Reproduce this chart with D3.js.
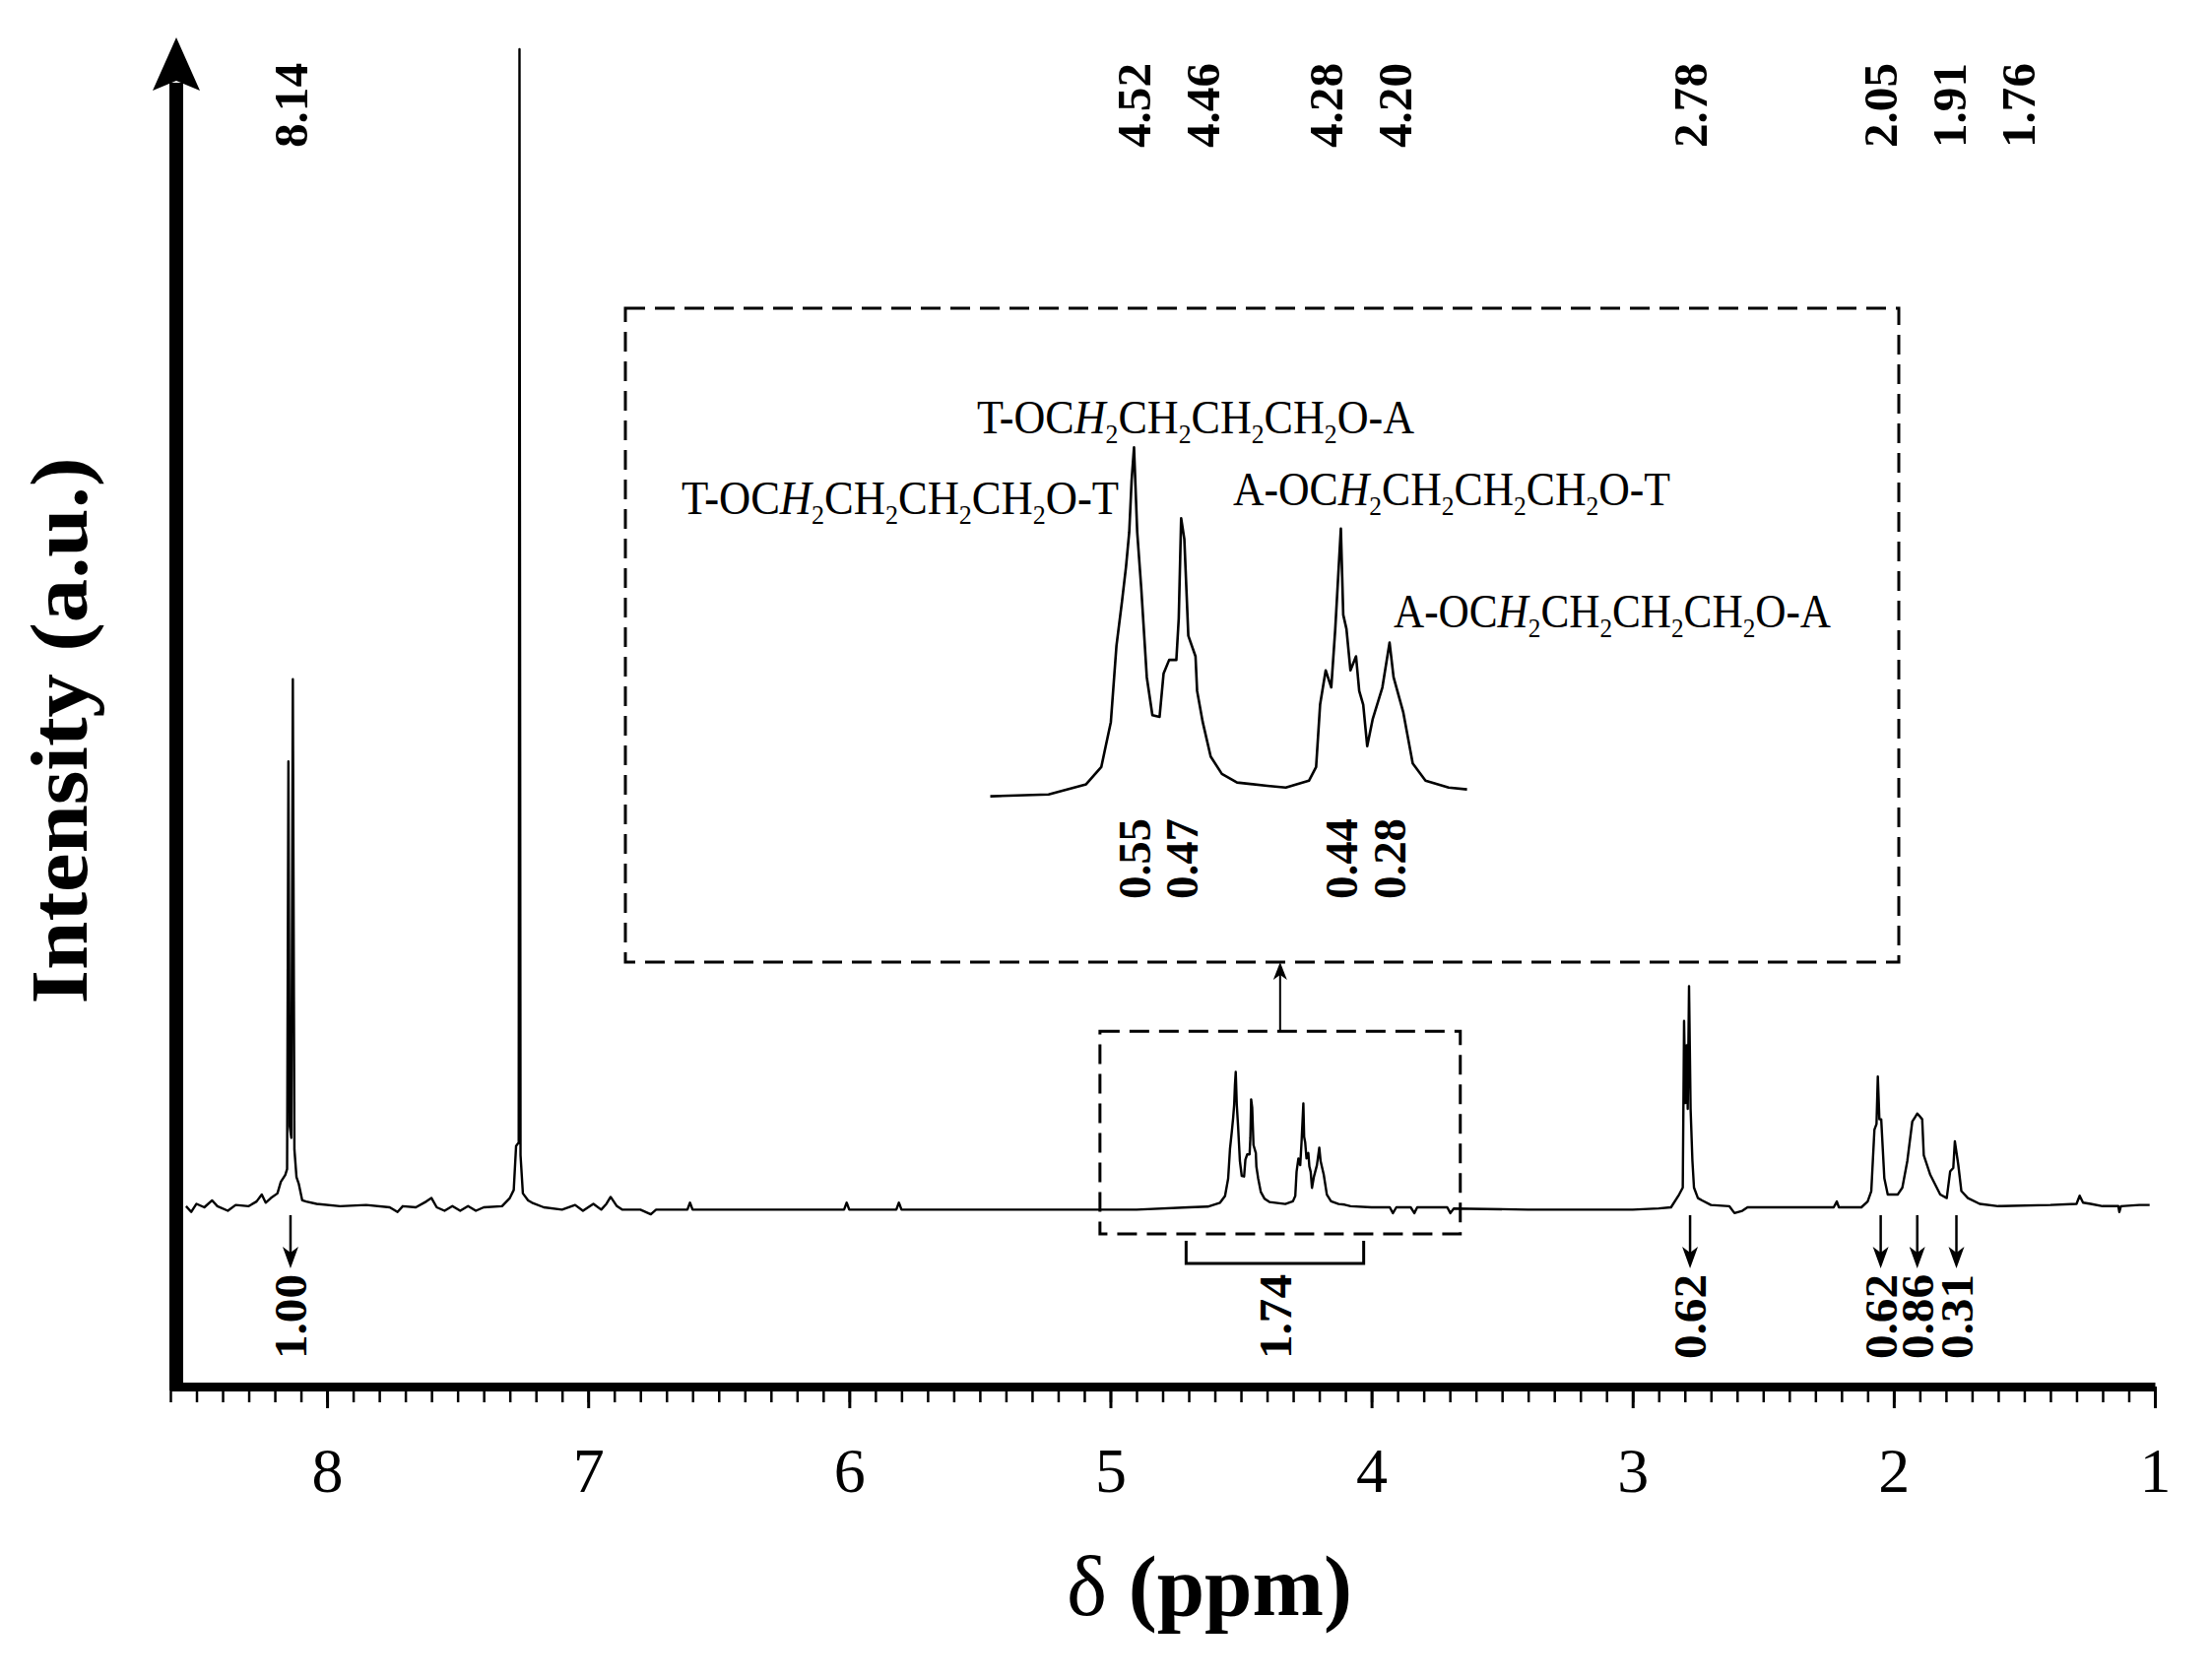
<!DOCTYPE html>
<html>
<head>
<meta charset="utf-8">
<script src="https://cdn.jsdelivr.net/npm/d3@7"></script>
<style>
  body { margin: 0; background: #fff; }
  svg { display: block; }
  text { font-family: "Liberation Serif", "Times New Roman", serif; fill: #000; }
</style>
</head>
<body>
<div id="chart-container"></div>
<script>
// Traces : [ppm, intensité], raie CHCl3 = 100
const aromaticTrace = [
  [8.54, 0.1], [8.52, -0.4], [8.50, 0.3], [8.47, 0.0], [8.44, 0.6], [8.42, 0.1], [8.38, -0.3],
  [8.35, 0.2], [8.30, 0.1], [8.27, 0.5], [8.25, 1.1], [8.235, 0.4], [8.215, 0.8], [8.19, 1.2],
  [8.177, 2.2], [8.16, 2.8], [8.153, 3.3], [8.148, 38.5], [8.143, 7.0], [8.137, 6.0], [8.131, 45.6],
  [8.125, 5.0], [8.117, 2.6], [8.108, 2.0], [8.095, 0.6], [8.08, 0.5], [8.04, 0.3], [7.95, 0.1],
  [7.85, 0.2], [7.76, 0.0], [7.73, -0.4], [7.71, 0.1], [7.66, 0.0], [7.62, 0.5], [7.60, 0.8],
  [7.58, 0.0], [7.55, -0.3], [7.52, 0.1], [7.49, -0.3], [7.46, 0.1], [7.43, -0.3], [7.40, 0.0],
  [7.33, 0.1], [7.30, 0.8], [7.285, 1.5], [7.276, 5.3], [7.266, 5.6], [7.263, 100], [7.259, 4.5],
  [7.25, 1.2], [7.23, 0.6], [7.215, 0.4], [7.17, 0.0], [7.10, -0.2], [7.05, 0.2], [7.02, -0.3],
  [6.98, 0.3], [6.95, -0.2], [6.93, 0.3], [6.914, 0.9], [6.89, 0.1], [6.87, -0.2], [6.80, -0.2],
  [6.76, -0.6], [6.74, -0.2], [6.62, -0.2], [6.61, 0.4], [6.60, -0.2], [6.20, -0.2], [6.02, -0.2],
  [6.01, 0.4], [6.00, -0.2], [5.82, -0.2], [5.81, 0.4], [5.80, -0.2], [5.20, -0.2], [4.90, -0.2]
];

// zone OCH2, tracée dans le spectre et dans l'encart
const oxyMethyleneTrace = [
  [4.700, 0.0], [4.627, 0.06], [4.580, 0.40], [4.561, 0.98], [4.549, 2.49], [4.542, 5.04],
  [4.535, 6.54], [4.530, 7.70], [4.526, 8.85], [4.523, 10.59], [4.520, 11.69], [4.516, 8.85],
  [4.511, 7.0], [4.504, 3.99], [4.497, 2.72], [4.488, 2.66], [4.483, 4.11], [4.476, 4.57],
  [4.467, 4.57], [4.464, 5.96], [4.461, 9.32], [4.457, 8.62], [4.452, 5.38], [4.443, 4.69],
  [4.441, 3.53], [4.434, 2.49], [4.424, 1.33], [4.410, 0.75], [4.391, 0.46], [4.353, 0.35],
  [4.330, 0.29], [4.301, 0.52], [4.292, 0.98], [4.287, 3.07], [4.280, 4.22], [4.273, 3.65],
  [4.268, 5.61], [4.261, 8.97], [4.258, 6.08], [4.254, 5.61], [4.249, 4.22], [4.242, 4.69],
  [4.238, 3.53], [4.233, 3.07], [4.228, 1.68], [4.221, 2.60], [4.209, 3.65], [4.200, 5.15],
  [4.195, 3.99], [4.183, 2.83], [4.171, 1.10], [4.155, 0.52], [4.126, 0.29], [4.103, 0.23]
];

const aliphaticTrace = [
  [4.08, 0.1], [4.00, 0.0], [3.93, 0.0], [3.918, -0.5], [3.905, 0.0], [3.85, 0.0], [3.836, -0.5],
  [3.825, 0.0], [3.71, 0.0], [3.698, -0.5], [3.685, -0.1], [3.40, -0.2], [3.00, -0.2], [2.90, -0.1],
  [2.853, 0.0], [2.822, 1.1], [2.808, 1.7], [2.803, 16.1], [2.798, 9.0], [2.793, 14.0], [2.789, 8.5],
  [2.784, 19.1], [2.778, 8.5], [2.771, 4.0], [2.765, 1.7], [2.75, 0.8], [2.734, 0.6], [2.70, 0.2],
  [2.63, 0.1], [2.61, -0.5], [2.58, -0.3], [2.56, 0.0], [2.40, 0.0], [2.23, 0.0], [2.218, 0.5],
  [2.21, 0.0], [2.124, 0.0], [2.10, 0.5], [2.086, 1.4], [2.074, 6.7], [2.066, 7.2], [2.061, 11.3],
  [2.055, 7.6], [2.048, 7.6], [2.036, 2.5], [2.023, 1.1], [1.985, 1.1], [1.967, 1.7], [1.948, 4.0],
  [1.929, 7.4], [1.918, 7.8], [1.91, 8.1], [1.902, 7.9], [1.891, 7.6], [1.885, 4.5], [1.86, 2.8],
  [1.822, 1.1], [1.797, 0.8], [1.784, 3.1], [1.772, 3.4], [1.766, 5.7], [1.753, 3.7], [1.741, 1.4],
  [1.716, 0.8], [1.671, 0.3], [1.60, 0.1], [1.40, 0.2], [1.30, 0.3], [1.288, 1.0], [1.275, 0.4],
  [1.246, 0.3], [1.20, 0.1], [1.14, 0.1], [1.136, -0.4], [1.13, 0.1], [1.06, 0.2], [1.02, 0.2]
];

const xTicks = [8, 7, 6, 5, 4, 3, 2, 1];
const mainShifts = ["8.14", "2.78", "2.05", "1.91", "1.76"];
const insetShifts = ["4.52", "4.46", "4.28", "4.20"];
const integralShifts = [8.14, 2.78, 2.05, 1.91, 1.76];
const integralValues = ["1.00", "0.62", "0.62", "0.86", "0.31"];
const bracketRange = [4.71, 4.03];
const bracketValue = "1.74";
const insetIntegralShifts = [4.52, 4.46, 4.26, 4.20];
const insetIntegralValues = ["0.55", "0.47", "0.44", "0.28"];
const assignmentEnds = [["T", "T"], ["T", "A"], ["A", "T"], ["A", "A"]];
const zoomWindow = [5.04, 3.66];      // ppm
const zoomWindowLevels = [-2.3, 15.2]; // intensité

// Mise en page
const width = 2245, height = 1706;
const axisY = 1408;

const svg = d3.select("#chart-container").append("svg")
  .attr("width", width).attr("height", height);

const x = d3.scaleLinear().domain([8.6, 1]).range([173, 2188]);
const y = d3.scaleLinear().domain([0, 100]).range([1226, 50]);

// encart
const ix = d3.scaleLinear().domain([4.70, 4.103]).range([1005.5, 1489.6]);
const iy = d3.scaleLinear().domain([0, 11.69]).range([808.6, 454.4]);

// Axe X : petites graduations puis grandes avec les chiffres
svg.append("g")
  .attr("transform", `translate(0,${axisY})`)
  .call(d3.axisBottom(x).tickValues(d3.range(10, 87).map(d => d / 10))
    .tickSize(16).tickSizeOuter(0).tickFormat(""))
  .call(g => g.select(".domain").attr("stroke-width", 9))
  .call(g => g.selectAll(".tick line").attr("stroke-width", 2.5));

svg.append("g")
  .attr("transform", `translate(0,${axisY})`)
  .call(d3.axisBottom(x).tickValues(xTicks).tickSize(22).tickSizeOuter(0).tickPadding(40).tickFormat(d3.format("d")))
  .call(g => g.select(".domain").remove())
  .call(g => g.selectAll(".tick line").attr("stroke-width", 3))
  .call(g => g.selectAll(".tick text").attr("font-size", 64).attr("fill", "#000"));

// Axe Y : trait épais avec flèche
svg.append("line")
  .attr("x1", 179).attr("x2", 179)
  .attr("y1", axisY + 4).attr("y2", 84)
  .attr("stroke", "#000").attr("stroke-width", 14);
svg.append("path")
  .attr("d", "M179,38 L203,92 L179,82 L155,92 Z")
  .attr("fill", "#000");

svg.append("text")
  .attr("transform", "translate(88,742) rotate(-90)")
  .attr("text-anchor", "middle")
  .attr("font-size", 82).attr("font-weight", "bold")
  .attr("textLength", 555).attr("lengthAdjust", "spacingAndGlyphs")
  .text("Intensity (a.u.)");

const xTitle = svg.append("text")
  .attr("x", 1083).attr("y", 1640)
  .attr("font-size", 86)
  .attr("textLength", 290).attr("lengthAdjust", "spacingAndGlyphs");
xTitle.append("tspan").text("δ ");
xTitle.append("tspan").attr("font-weight", "bold").text("(ppm)");

// Spectre
const line = d3.line().x(d => x(d[0])).y(d => y(d[1]));
svg.append("path")
  .datum(aromaticTrace.concat(oxyMethyleneTrace, aliphaticTrace))
  .attr("d", line)
  .attr("fill", "none").attr("stroke", "#000")
  .attr("stroke-width", 2.4).attr("stroke-linejoin", "round");

// Étiquettes verticales
function vlabel(cx, cy, txt, size, len) {
  svg.append("text")
    .attr("transform", `translate(${cx},${cy}) rotate(-90)`)
    .attr("text-anchor", "middle").attr("dy", "0.35em")
    .attr("font-size", size).attr("font-weight", "bold")
    .attr("textLength", len).attr("lengthAdjust", "spacingAndGlyphs")
    .text(txt);
}

// écarte les étiquettes trop proches
function spread(xs, gap) {
  const out = xs.slice();
  for (let i = 1; i < out.length; i++) out[i] = Math.max(out[i], out[i - 1] + gap);
  return out;
}

spread(mainShifts.map(s => x(+s)), 70).forEach((px, i) => vlabel(px, 107, mainShifts[i], 48, 86));
spread(insetShifts.map(s => ix(+s)), 70).forEach((px, i) => vlabel(px, 107, insetShifts[i], 48, 86));

// Intégrales avec flèches
function downArrow(px) {
  svg.append("line").attr("x1", px).attr("x2", px).attr("y1", 1234).attr("y2", 1272)
    .attr("stroke", "#000").attr("stroke-width", 2.5);
  svg.append("path")
    .attr("d", `M${px},1288 L${px - 8},1266 L${px},1272 L${px + 8},1266 Z`)
    .attr("fill", "#000");
}
integralShifts.forEach((s, i) => {
  downArrow(x(s));
  vlabel(x(s), 1337, integralValues[i], 46, 86);
});

const b0 = x(bracketRange[0]), b1 = x(bracketRange[1]);
svg.append("path")
  .attr("d", `M${b0},1260 V1283 H${b1} V1260`)
  .attr("fill", "none").attr("stroke", "#000").attr("stroke-width", 3);
vlabel((b0 + b1) / 2, 1337, bracketValue, 46, 86);

// Zone agrandie
const z0 = x(zoomWindow[0]), z1 = x(zoomWindow[1]);
svg.append("rect")
  .attr("x", z0).attr("y", y(zoomWindowLevels[1]))
  .attr("width", z1 - z0).attr("height", y(zoomWindowLevels[0]) - y(zoomWindowLevels[1]))
  .attr("fill", "none").attr("stroke", "#000").attr("stroke-width", 3)
  .attr("stroke-dasharray", "20,10");

const inset = { x: 635, y: 313, w: 1293, h: 664 };
svg.append("rect")
  .attr("x", inset.x).attr("y", inset.y).attr("width", inset.w).attr("height", inset.h)
  .attr("fill", "none").attr("stroke", "#000").attr("stroke-width", 3)
  .attr("stroke-dasharray", "20,10");

const zc = (z0 + z1) / 2;
svg.append("line").attr("x1", zc).attr("x2", zc)
  .attr("y1", y(zoomWindowLevels[1])).attr("y2", inset.y + inset.h + 8)
  .attr("stroke", "#000").attr("stroke-width", 2);
svg.append("path")
  .attr("d", `M${zc},${inset.y + inset.h} L${zc - 7},${inset.y + inset.h + 18} L${zc},${inset.y + inset.h + 13} L${zc + 7},${inset.y + inset.h + 18} Z`)
  .attr("fill", "#000");

const insetLine = d3.line().x(d => ix(d[0])).y(d => iy(d[1]));
svg.append("path")
  .datum(oxyMethyleneTrace)
  .attr("d", insetLine)
  .attr("fill", "none").attr("stroke", "#000")
  .attr("stroke-width", 2.6).attr("stroke-linejoin", "round");

insetIntegralShifts.forEach((s, i) => vlabel(ix(s), 872, insetIntegralValues[i], 46, 82));

// Attributions
const assignmentPos = [[692, 522], [992, 440], [1252, 513], [1415, 637]];
function sub(t) {
  t.append("tspan").attr("dy", 10).attr("font-size", 28).text("2");
}
assignmentEnds.forEach((ends, i) => {
  const t = svg.append("text")
    .attr("x", assignmentPos[i][0]).attr("y", assignmentPos[i][1])
    .attr("font-size", 48)
    .attr("textLength", 444).attr("lengthAdjust", "spacingAndGlyphs");
  t.append("tspan").text(ends[0] + "-OC");
  t.append("tspan").attr("font-style", "italic").text("H");
  sub(t);
  for (let k = 0; k < 3; k++) {
    t.append("tspan").attr("dy", -10).text("CH");
    sub(t);
  }
  t.append("tspan").attr("dy", -10).text("O-" + ends[1]);
});
</script>
</body>
</html>
